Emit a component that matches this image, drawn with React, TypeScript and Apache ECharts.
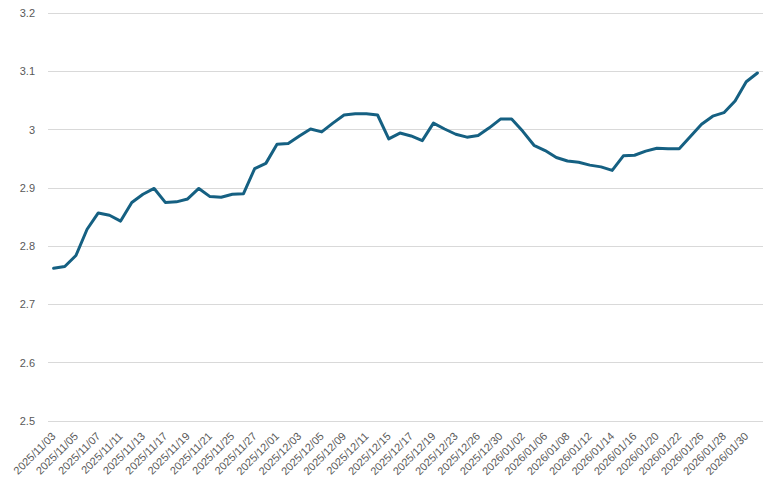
import React, { useEffect, useRef } from "react";
import * as echarts from "echarts";

const categories: string[] = [
  "2025/11/03", "2025/11/04", "2025/11/05", "2025/11/06", "2025/11/07",
  "2025/11/10", "2025/11/11", "2025/11/12", "2025/11/13", "2025/11/14",
  "2025/11/17", "2025/11/18", "2025/11/19", "2025/11/20", "2025/11/21",
  "2025/11/24", "2025/11/25", "2025/11/26", "2025/11/27", "2025/11/28",
  "2025/12/01", "2025/12/02", "2025/12/03", "2025/12/04", "2025/12/05",
  "2025/12/08", "2025/12/09", "2025/12/10", "2025/12/11", "2025/12/12",
  "2025/12/15", "2025/12/16", "2025/12/17", "2025/12/18", "2025/12/19",
  "2025/12/22", "2025/12/23", "2025/12/24", "2025/12/26", "2025/12/29",
  "2025/12/30", "2025/12/31", "2026/01/02", "2026/01/05", "2026/01/06",
  "2026/01/07", "2026/01/08", "2026/01/09", "2026/01/12", "2026/01/13",
  "2026/01/14", "2026/01/15", "2026/01/16", "2026/01/19", "2026/01/20",
  "2026/01/21", "2026/01/22", "2026/01/23", "2026/01/26", "2026/01/27",
  "2026/01/28", "2026/01/29", "2026/01/30", "2026/02/02",
];

const values: number[] = [
  2.762, 2.765, 2.784, 2.829, 2.857, 2.853, 2.843, 2.875, 2.889, 2.899,
  2.875, 2.876, 2.881, 2.899, 2.885, 2.884, 2.889, 2.890, 2.933, 2.942,
  2.975, 2.976, 2.989, 3.001, 2.996, 3.011, 3.025, 3.027, 3.027, 3.025,
  2.984, 2.994, 2.989, 2.981, 3.011, 3.001, 2.992, 2.987, 2.990, 3.003,
  3.018, 3.018, 2.997, 2.973, 2.964, 2.952, 2.946, 2.944, 2.939, 2.936,
  2.930, 2.955, 2.956, 2.963, 2.968, 2.967, 2.967, 2.988, 3.009, 3.023,
  3.029, 3.049, 3.082, 3.097,
];

const yMin = 2.5;
const yMax = 3.2;
const yStep = 0.1;

export default function App() {
  const ref = useRef<HTMLDivElement>(null);

  useEffect(() => {
    document.body.style.margin = "0";
    if (!ref.current) return;
    const chart = echarts.init(ref.current, undefined, { renderer: "svg" });
    chart.setOption({
      animation: false,
      backgroundColor: "#ffffff",
      textStyle: { fontFamily: "Liberation Sans" },
      grid: { left: 48, right: 20, top: 13, bottom: 66, containLabel: false },
      xAxis: {
        type: "category",
        data: categories,
        boundaryGap: true,
        axisLine: { show: false },
        axisTick: { show: false },
        axisLabel: {
          interval: 1,
          rotate: 45,
          margin: 13,
          color: "#595959",
          fontSize: 11,
          fontFamily: "Liberation Sans",
        },
      },
      yAxis: {
        type: "value",
        min: yMin,
        max: yMax,
        interval: yStep,
        axisLine: { show: false },
        axisTick: { show: false },
        axisLabel: {
          margin: 13,
          color: "#595959",
          fontSize: 11,
          fontFamily: "Liberation Sans",
        },
        splitLine: { lineStyle: { color: "#D9D9D9", width: 1 } },
      },
      series: [
        {
          type: "line",
          data: values,
          showSymbol: false,
          symbol: "none",
          lineStyle: { color: "#156082", width: 3, cap: "round", join: "round" },
          itemStyle: { color: "#156082" },
        },
      ],
    });
    return () => chart.dispose();
  }, []);

  return <div ref={ref} style={{ width: 783, height: 487 }} />;
}
